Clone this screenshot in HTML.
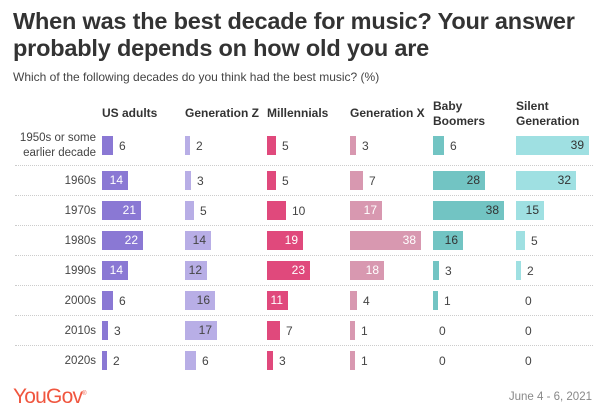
<!DOCTYPE html>
<html><head><meta charset="utf-8"><style>
body{margin:0;width:600px;height:418px;background:#fff;font-family:"Liberation Sans",sans-serif;color:#333;position:relative;overflow:hidden}
.a{position:absolute;white-space:nowrap}
h1{position:absolute;left:13px;top:8px;margin:0;font-size:23.5px;line-height:27px;font-weight:bold;color:#333;letter-spacing:-0.2px}
.sub{left:13px;top:70px;font-size:12px;color:#444}
.h{font-size:12px;font-weight:bold;line-height:15px;color:#333}
.r{right:504px;font-size:11.5px;color:#444;text-align:right;line-height:15px}
.sep{position:absolute;left:15px;width:578px;border-top:1px dotted #ccc;height:0}
.c{position:absolute;height:19px;display:flex;align-items:center;font-size:12px;color:#444}
.c i{display:block;height:19px;margin-right:6px;box-sizing:border-box;text-align:right;font-style:normal;line-height:19px;padding-right:5px;font-size:12px}
.us i{background:#8a78d4;color:#fff}.gz i{background:#b8aee6;color:#444}.mi i{background:#e0497c;color:#fff}
.gx i{background:#d898b0;color:#fff}.bb i{background:#72c4c3;color:#333}.sg i{background:#9fe0e2;color:#333}
</style></head><body>
<h1>When was the best decade for music? Your answer<br>probably depends on how old you are</h1>
<div class="a sub">Which of the following decades do you think had the best music? (%)</div>

<div class="a h" style="left:102px;top:106px">US adults</div>
<div class="a h" style="left:185px;top:106px">Generation Z</div>
<div class="a h" style="left:267px;top:106px">Millennials</div>
<div class="a h" style="left:350px;top:106px">Generation X</div>
<div class="a h" style="left:433px;top:99px">Baby<br>Boomers</div>
<div class="a h" style="left:516px;top:99px">Silent<br>Generation</div>

<div class="a r" style="top:131px">1950s or some<br>earlier decade</div>
<div class="a r" style="top:174px">1960s</div>
<div class="a r" style="top:204px">1970s</div>
<div class="a r" style="top:234px">1980s</div>
<div class="a r" style="top:264px">1990s</div>
<div class="a r" style="top:294px">2000s</div>
<div class="a r" style="top:324px">2010s</div>
<div class="a r" style="top:354px">2020s</div>

<div class="sep" style="top:165px"></div><div class="sep" style="top:195px"></div><div class="sep" style="top:225px"></div><div class="sep" style="top:255px"></div><div class="sep" style="top:285px"></div><div class="sep" style="top:315px"></div><div class="sep" style="top:345px"></div>

<div class="c us" style="left:102px;top:136px"><i style="width:11px"></i>6</div>
<div class="c gz" style="left:185px;top:136px"><i style="width:4px"></i>2</div>
<div class="c mi" style="left:267px;top:136px"><i style="width:9px"></i>5</div>
<div class="c gx" style="left:350px;top:136px"><i style="width:6px"></i>3</div>
<div class="c bb" style="left:433px;top:136px"><i style="width:11px"></i>6</div>
<div class="c sg" style="left:516px;top:136px"><i style="width:73px">39</i></div>

<div class="c us" style="left:102px;top:171px"><i style="width:26px">14</i></div>
<div class="c gz" style="left:185px;top:171px"><i style="width:6px"></i>3</div>
<div class="c mi" style="left:267px;top:171px"><i style="width:9px"></i>5</div>
<div class="c gx" style="left:350px;top:171px"><i style="width:13px"></i>7</div>
<div class="c bb" style="left:433px;top:171px"><i style="width:52px">28</i></div>
<div class="c sg" style="left:516px;top:171px"><i style="width:60px">32</i></div>

<div class="c us" style="left:102px;top:201px"><i style="width:39px">21</i></div>
<div class="c gz" style="left:185px;top:201px"><i style="width:9px"></i>5</div>
<div class="c mi" style="left:267px;top:201px"><i style="width:19px"></i>10</div>
<div class="c gx" style="left:350px;top:201px"><i style="width:32px">17</i></div>
<div class="c bb" style="left:433px;top:201px"><i style="width:71px">38</i></div>
<div class="c sg" style="left:516px;top:201px"><i style="width:28px">15</i></div>

<div class="c us" style="left:102px;top:231px"><i style="width:41px">22</i></div>
<div class="c gz" style="left:185px;top:231px"><i style="width:26px">14</i></div>
<div class="c mi" style="left:267px;top:231px"><i style="width:36px">19</i></div>
<div class="c gx" style="left:350px;top:231px"><i style="width:71px">38</i></div>
<div class="c bb" style="left:433px;top:231px"><i style="width:30px">16</i></div>
<div class="c sg" style="left:516px;top:231px"><i style="width:9px"></i>5</div>

<div class="c us" style="left:102px;top:261px"><i style="width:26px">14</i></div>
<div class="c gz" style="left:185px;top:261px"><i style="width:22px">12</i></div>
<div class="c mi" style="left:267px;top:261px"><i style="width:43px">23</i></div>
<div class="c gx" style="left:350px;top:261px"><i style="width:34px">18</i></div>
<div class="c bb" style="left:433px;top:261px"><i style="width:6px"></i>3</div>
<div class="c sg" style="left:516px;top:261px"><i style="width:4px"></i>2</div>

<div class="c us" style="left:102px;top:291px"><i style="width:11px"></i>6</div>
<div class="c gz" style="left:185px;top:291px"><i style="width:30px">16</i></div>
<div class="c mi" style="left:267px;top:291px"><i style="width:21px">11</i></div>
<div class="c gx" style="left:350px;top:291px"><i style="width:7px"></i>4</div>
<div class="c bb" style="left:433px;top:291px"><i style="width:2px"></i>1</div>
<div class="c sg" style="left:525px;top:291px">0</div>

<div class="c us" style="left:102px;top:321px"><i style="width:6px"></i>3</div>
<div class="c gz" style="left:185px;top:321px"><i style="width:32px">17</i></div>
<div class="c mi" style="left:267px;top:321px"><i style="width:13px"></i>7</div>
<div class="c gx" style="left:350px;top:321px"><i style="width:2px"></i>1</div>
<div class="c bb" style="left:439px;top:321px">0</div>
<div class="c sg" style="left:525px;top:321px">0</div>

<div class="c us" style="left:102px;top:351px"><i style="width:4px"></i>2</div>
<div class="c gz" style="left:185px;top:351px"><i style="width:11px"></i>6</div>
<div class="c mi" style="left:267px;top:351px"><i style="width:6px"></i>3</div>
<div class="c gx" style="left:350px;top:351px"><i style="width:2px"></i>1</div>
<div class="c bb" style="left:439px;top:351px">0</div>
<div class="c sg" style="left:525px;top:351px">0</div>

<div class="a" style="left:13px;top:385px;font-size:21px;color:#f0563f;letter-spacing:-0.8px">YouGov<sup style="font-size:6px">®</sup></div>
<div class="a" style="right:8px;top:391px;font-size:11.5px;color:#888">June 4 - 6, 2021</div>
</body></html>
